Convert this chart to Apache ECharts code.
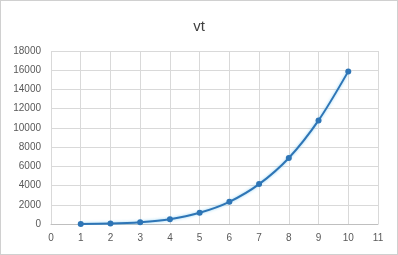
<!DOCTYPE html>
<html><head><meta charset="utf-8">
<script src="https://cdn.jsdelivr.net/npm/echarts@6/dist/echarts.min.js"></script>
<style>html,body{margin:0;padding:0;background:#fff}#c{width:398px;height:255px;box-sizing:border-box;border:1px solid #d0d0d0}</style>
</head><body><div id="c"></div>
<script>
const titleText = 'vt';
const xValues = [1, 2, 3, 4, 5, 6, 7, 8, 9, 10];
const yValues = [10, 50, 190, 500, 1170, 2310, 4150, 6870, 10780, 15880];

const chart = echarts.init(document.getElementById('c'));
chart.setOption({
  animation: false,
  title: { text: titleText, left: 'center', top: 13, textStyle: { fontFamily: 'Liberation Sans', fontSize: 15, fontWeight: 'normal', color: '#404040' } },
  grid: { left: 50, right: 19, top: 50, bottom: 30 },
  xAxis: {
    type: 'value', min: 0, max: 11, interval: 1,
    axisLine: { show: true, lineStyle: { color: '#bfbfbf' } },
    axisTick: { show: false },
    axisLabel: { color: '#595959', fontFamily: 'Liberation Sans', fontSize: 10, margin: 9 },
    splitLine: { show: true, lineStyle: { color: '#d9d9d9' } }
  },
  yAxis: {
    type: 'value', min: 0, max: 18000, interval: 2000,
    axisLine: { show: false },
    axisTick: { show: false },
    axisLabel: { color: '#595959', fontFamily: 'Liberation Sans', fontSize: 10, margin: 10, formatter: v => String(v) },
    splitLine: { show: true, lineStyle: { color: '#d9d9d9' } }
  },
  series: [{
    type: 'line', smooth: 0.3,
    data: xValues.map((x, i) => [x, yValues[i]]),
    symbol: 'circle', symbolSize: 6,
    itemStyle: { color: '#2e75b6' },
    lineStyle: { color: '#2e75b6', width: 2, shadowColor: 'rgba(120,200,240,0.8)', shadowBlur: 3 }
  }]
});
</script></body></html>
